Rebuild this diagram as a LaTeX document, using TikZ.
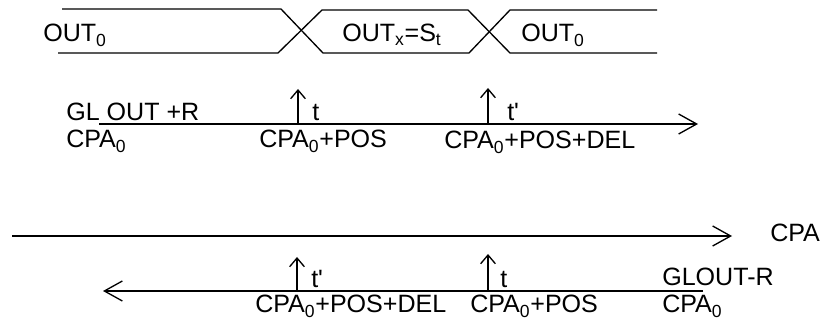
\documentclass[tikz,border=0pt]{standalone}
\usepackage{fontspec}
\setmainfont{Liberation Sans}
\usetikzlibrary{arrows.meta}
\tikzset{
  lbl/.style={anchor=base west,inner sep=0pt,font=\fontsize{18.8}{22}\selectfont},
  axis/.style={line width=1pt,-{Straight Barb[length=13.5pt,width=15pt,line width=1pt]}},
  mark up/.style={line width=1pt,-{Straight Barb[length=6.5pt,width=11pt,line width=1pt]}},
  wave/.style={line width=1pt}
}
\newcommand{\sub}[1]{\textsubscript{#1}}
\begin{document}
\begin{tikzpicture}[x=0.75pt,y=-0.75pt]
\useasboundingbox (0,0) rectangle (821,320);
% waveform
\draw[wave] (62,9) -- (281,9) -- (323,53) -- (469,53) -- (510,10) -- (657,10);
\draw[wave] (58,53) -- (278,53) -- (322,10) -- (468,10) -- (510,53) -- (657,53);
\node[lbl] (out0a) at (43,42) {OUT\sub{0}};
\node[lbl] (outx) at (342,42) {OUT\sub{x}=S\sub{t}};
\node[lbl] (out0b) at (521,42) {OUT\sub{0}};
% forward axis
\coordinate (fa) at (99,124);
\coordinate (fb) at (698,124);
\coordinate (ft) at (298,124);
\coordinate (fd) at (488,124);
\draw[axis] (fa) -- (fb);
\draw[mark up] (ft) -- ++(0,-35);
\draw[mark up] (fd) -- ++(0,-36);
\node[lbl] (glp) at (66,121) {GL OUT +R};
\node[lbl] (fcpa) at (66,148) {CPA\sub{0}};
\node[lbl] (fpos) at (259,148) {CPA\sub{0}+POS};
\node[lbl] (fdel) at (444,149) {CPA\sub{0}+POS+DEL};
\node[lbl] (ftl) at (312,121) {t};
\node[lbl] (fdl) at (507,121) {t\textquotesingle};
% CPA axis
\coordinate (ca) at (12,236);
\coordinate (cb) at (732,236);
\draw[axis] (ca) -- (cb);
\node[lbl] (cpa) at (770,242) {CPA};
% backward axis
\coordinate (ba) at (703,291);
\coordinate (bb) at (103,291);
\coordinate (bd) at (297,291);
\coordinate (bt) at (488,291);
\draw[axis] (ba) -- (bb);
\draw[mark up] (bd) -- ++(0,-34);
\draw[mark up] (bt) -- ++(0,-37);
\node[lbl] (bdl) at (311,287) {t\textquotesingle};
\node[lbl] (btl) at (500,287) {t};
\node[lbl] (glm) at (662,286) {GLOUT-R};
\node[lbl] (bcpa) at (662,313) {CPA\sub{0}};
\node[lbl] (bdel) at (255,313) {CPA\sub{0}+POS+DEL};
\node[lbl] (bpos) at (470,313) {CPA\sub{0}+POS};
\end{tikzpicture}
\end{document}
